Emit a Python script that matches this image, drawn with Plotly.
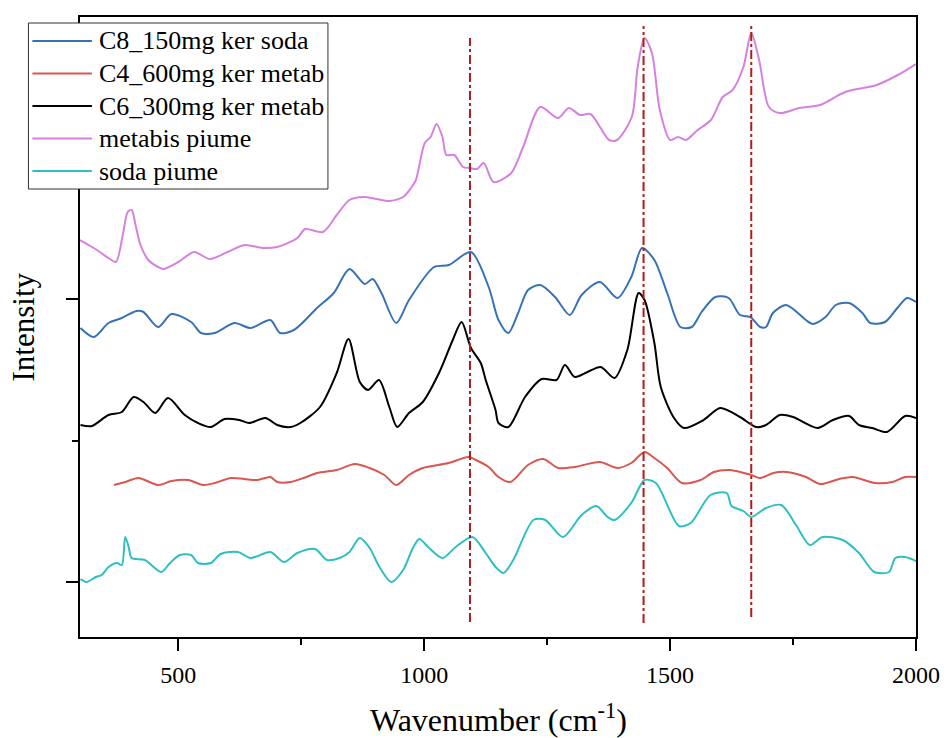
import plotly.graph_objects as go

# ---- data (wavenumber in cm-1, intensity in arbitrary units, offset spectra) ----
metabis_wn = [300, 328, 358, 373, 387, 397, 405, 413, 423, 439, 459, 469, 500, 532, 564, 600, 635, 671, 701, 742,
              758, 794, 822, 848, 877, 903, 929, 957, 973, 983, 1001, 1013, 1025, 1037, 1045, 1061, 1079, 1093,
              1107, 1121, 1141, 1177, 1201, 1236, 1272, 1294, 1317, 1338, 1376, 1392, 1422, 1434, 1448, 1463,
              1479, 1500, 1516, 1532, 1556, 1583, 1607, 1627, 1649, 1665, 1681, 1701, 1723, 1763, 1805, 1856,
              1920, 1963, 2000]
metabis_int = [397, 389, 379, 375, 402, 425, 427, 412, 392, 377, 370, 368, 375, 385, 378, 385, 392, 389, 390, 399,
               408, 405, 422, 437, 440, 438, 436, 440, 449, 457, 494, 500, 513, 500, 482, 482, 470, 469,
               468, 474, 455, 464, 490, 530, 519, 529, 522, 523, 497, 497, 520, 570, 599, 584,
               527, 497, 500, 497, 507, 517, 540, 547, 570, 604, 577, 530, 524, 529, 532, 545,
               552, 562, 573]

c8_wn = [301, 328, 358, 385, 415, 429, 459, 486, 526, 546, 574, 614, 647, 687, 707, 735, 782, 816, 848, 879,
         895, 913, 943, 969, 1020, 1050, 1095, 1131, 1151, 1171, 1191, 1211, 1236, 1266, 1296, 1320, 1357,
         1393, 1421, 1443, 1468, 1494, 1521, 1544, 1564, 1592, 1619, 1642, 1663, 1683, 1695, 1709, 1736,
         1776, 1790, 1816, 1837, 1864, 1891, 1907, 1937, 1962, 1982, 2000]
c8_int = [309, 300, 314, 319, 326, 325, 310, 323, 315, 304, 304, 314, 309, 317, 304, 307, 329, 344, 368, 353,
          358, 344, 314, 337, 370, 372, 385, 350, 317, 304, 324, 347, 352, 340, 322, 342, 355,
          339, 360, 389, 377, 344, 310, 310, 325, 340, 339, 322, 320, 310, 310, 324, 332,
          317, 313, 320, 332, 334, 324, 314, 315, 329, 339, 335]

c6_wn = [301, 324, 358, 385, 409, 429, 453, 479, 513, 540, 566, 594, 624, 644, 677, 701, 728, 748, 788, 822,
         846, 869, 886, 908, 929, 945, 969, 997, 1030, 1058, 1076, 1095, 1115, 1125, 1145, 1151, 1171, 1205,
         1239, 1269, 1286, 1306, 1332, 1359, 1387, 1413, 1436, 1448, 1468, 1481, 1508, 1528, 1568, 1602,
         1642, 1675, 1695, 1723, 1750, 1800, 1831, 1864, 1884, 1911, 1941, 1978, 2000]
c6_int = [212, 211, 222, 225, 240, 235, 224, 239, 222, 214, 210, 218, 217, 214, 219, 212, 210, 214, 230, 264,
          298, 255, 247, 257, 230, 210, 224, 235, 264, 297, 315, 289, 274, 257, 227, 214, 210, 240,
          258, 257, 272, 260, 265, 270, 259, 287, 344, 337, 294, 250, 219, 209, 217, 229,
          220, 210, 212, 222, 220, 209, 217, 221, 212, 209, 205, 221, 219]

c4_wn = [369, 392, 419, 459, 486, 520, 550, 574, 607, 634, 661, 687, 701, 728, 755, 782, 822, 859, 889, 919,
         943, 969, 997, 1050, 1090, 1105, 1131, 1151, 1175, 1211, 1242, 1272, 1306, 1357, 1393, 1421, 1448,
         1468, 1494, 1524, 1562, 1589, 1622, 1665, 1683, 1710, 1736, 1776, 1806, 1844, 1871, 1917, 1952,
         1978, 2000]
c4_int = [152, 155, 159, 152, 156, 157, 152, 154, 159, 158, 157, 160, 155, 155, 159, 164, 167, 173, 169, 162,
          152, 162, 169, 174, 180, 177, 170, 160, 155, 172, 178, 169, 170, 175, 169, 174, 185,
          179, 169, 154, 157, 165, 167, 162, 159, 164, 165, 160, 153, 158, 160, 154, 155,
          160, 160]

soda_wn = [301, 314, 332, 344, 358, 375, 385, 392, 399, 405, 432, 465, 483, 503, 526, 540, 566, 586, 621, 647,
           687, 715, 742, 778, 802, 828, 848, 869, 889, 909, 933, 957, 977, 990, 1010, 1037, 1064, 1098,
           1125, 1145, 1161, 1181, 1222, 1246, 1282, 1320, 1350, 1373, 1387, 1421, 1448, 1471, 1518, 1542,
           1582, 1615, 1625, 1649, 1665, 1695, 1726, 1756, 1784, 1810, 1851, 1884, 1915, 1945, 1958, 1978,
           2000]
soda_int = [58, 55, 60, 62, 70, 74, 72, 100, 90, 79, 77, 65, 74, 82, 82, 74, 74, 83, 85, 79,
            85, 75, 84, 88, 77, 79, 85, 99, 89, 70, 55, 67, 89, 98, 89, 79, 90, 100,
            84, 70, 64, 77, 117, 117, 100, 122, 131, 120, 117, 134, 157, 154, 111, 114,
            142, 144, 131, 126, 120, 129, 132, 112, 92, 100, 97, 84, 65, 65, 79, 80,
            76]

marker_wn = [1093, 1446, 1665]
marker_top = [599, 611, 611]
marker_bottom = [15, 14, 20]

series = [
    ("C8_150mg ker soda", c8_wn, c8_int, "#3872b6"),
    ("C4_600mg ker metab", c4_wn, c4_int, "#d9574f"),
    ("C6_300mg ker metab", c6_wn, c6_int, "#000000"),
    ("metabis piume", metabis_wn, metabis_int, "#d681e0"),
    ("soda piume", soda_wn, soda_int, "#2fbfc2"),
]

FONT = "Liberation Serif, Times New Roman, serif"

# plot-area geometry in pixels (used only to place the hand-drawn legend box)
PL, PR, PT, PB = 80, 923, 17, 637
def px_x(p):
    return (p - PL) / (PR - PL)
def px_y(p):
    return (PB - p) / (PB - PT)

fig = go.Figure()
for name, xs, ys, col in series:
    fig.add_trace(go.Scatter(x=xs, y=ys, mode="lines", name=name, showlegend=False,
                             line=dict(color=col, width=2, shape="spline", smoothing=0.8)))

for wn, top, bot in zip(marker_wn, marker_top, marker_bottom):
    fig.add_shape(type="line", xref="x", yref="y", x0=wn, x1=wn, y0=bot, y1=top,
                  line=dict(color="#b01c1c", width=2, dash="dashdot"))

# legend (box, line samples, labels)
fig.add_shape(type="rect", xref="paper", yref="paper", layer="above",
              x0=px_x(28), x1=px_x(330), y0=px_y(189), y1=px_y(23),
              fillcolor="white", line=dict(color="#333333", width=1))
annotations = []
row_y = [41, 73.5, 106, 138.5, 171]
for (name, xs, ys, col), ry in zip(series, row_y):
    fig.add_shape(type="line", xref="paper", yref="paper", layer="above",
                  x0=px_x(32), x1=px_x(92), y0=px_y(ry), y1=px_y(ry),
                  line=dict(color=col, width=2))
    annotations.append(dict(text=name, xref="paper", yref="paper", x=px_x(97), y=px_y(ry),
                            xanchor="left", yanchor="middle", showarrow=False,
                            font=dict(family=FONT, size=26, color="black")))

annotations += [
    dict(text="Wavenumber (cm<sup>-1</sup>)", xref="paper", yref="paper",
         x=0.5, y=px_y(718), xanchor="center", yanchor="middle", showarrow=False,
         font=dict(family=FONT, size=32, color="black")),
    dict(text="Intensity", xref="paper", yref="paper", textangle=-90,
         x=px_x(23), y=0.5, xanchor="center", yanchor="middle", showarrow=False,
         font=dict(family=FONT, size=31, color="black")),
]

fig.update_layout(
    width=952, height=738,
    margin=dict(l=PL, r=952 - PR, t=PT, b=738 - PB),
    paper_bgcolor="white", plot_bgcolor="white",
    font=dict(family=FONT, color="black"),
    showlegend=False,
    xaxis=dict(range=[300, 2000], showgrid=False, zeroline=False,
               showline=True, linecolor="black", linewidth=2, mirror=True,
               ticks="outside", ticklen=12, tickwidth=2, tickcolor="black",
               tickvals=[500, 1000, 1500, 2000],
               tickfont=dict(family=FONT, size=24, color="black"),
               ticklabelstandoff=3,
               minor=dict(ticks="outside", ticklen=6, tickwidth=2, tickcolor="black",
                          tickvals=[750, 1250, 1750])),
    yaxis=dict(range=[0, 620], showgrid=False, zeroline=False,
               showline=True, linecolor="black", linewidth=2, mirror=True,
               ticks="outside", ticklen=12, tickwidth=2, tickcolor="black",
               tickvals=[55, 338], showticklabels=False,
               minor=dict(ticks="outside", ticklen=6, tickwidth=2, tickcolor="black",
                          tickvals=[196.5])),
    annotations=annotations,
)

fig.write_html("out.html")
